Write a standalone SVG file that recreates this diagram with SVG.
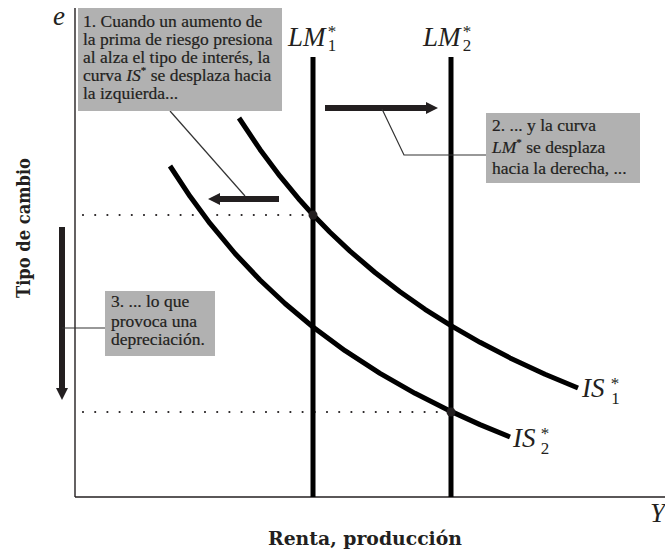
<svg xmlns="http://www.w3.org/2000/svg" width="665" height="551" viewBox="0 0 665 551">
<style>
.box{fill:#b1b1b1}
.bt{font-family:"Liberation Serif","Times New Roman",serif;font-size:17.5px;fill:#231f20;stroke:#231f20;stroke-width:0.2}
.it{font-style:italic}
.lbl{font-family:"Liberation Serif","Times New Roman",serif;font-style:italic;font-size:27px;fill:#231f20}
.sm{font-family:"Liberation Serif","Times New Roman",serif;font-size:17px;fill:#231f20;text-anchor:middle}
.ax{font-family:"DejaVu Serif","Liberation Serif",serif;font-weight:bold;font-size:18px;fill:#231f20;text-anchor:middle}
.axis{stroke:#231f20;stroke-width:1.4;fill:none}
.curve{stroke:#000;stroke-width:5;fill:none;stroke-linejoin:round}
.lm{stroke:#000;stroke-width:5;fill:none}
.dots{stroke:#231f20;stroke-width:2.2;stroke-linecap:round;stroke-dasharray:0 12.2;fill:none}
.arrow{stroke:#231f20;stroke-width:6;fill:none;marker-end:url(#ah)}
.leader{stroke:#333;stroke-width:1.2;fill:none}
</style>
<defs>
<marker id="ah" markerUnits="userSpaceOnUse" markerWidth="12" markerHeight="12" viewBox="0 0 12 12" refX="1" refY="6" orient="auto">
<path d="M0,0 L12,6 L0,12 z" fill="#231f20"/>
</marker>
</defs>

<g id="axes">
<line class="axis" x1="75" y1="8" x2="75" y2="497"/>
<line class="axis" x1="75" y1="497" x2="665" y2="497"/>
<text class="lbl" x="53" y="25" font-size="26">e</text>
<text class="lbl" x="650" y="522" font-size="26">Y</text>
<text class="ax" x="365" y="545" textLength="194" lengthAdjust="spacingAndGlyphs">Renta, producción</text>
<text class="ax" transform="translate(30,228) rotate(-90)" textLength="140" lengthAdjust="spacingAndGlyphs">Tipo de cambio</text>
</g>

<g id="guides">
<line class="dots" x1="83" y1="215" x2="308" y2="215"/>
<line class="dots" x1="83" y1="412" x2="446" y2="412"/>
</g>

<g id="IS1">
<polyline class="curve" points="239,118 260,149.4 280,176.2 300,200.3 313,214.7 330,232.2 350,251.1 375,272.5 400,291.8 425,309.3 451,325.7 480,342.3 510,357.9 545,374.2 578,388"/>
<text class="lbl" x="582" y="397">IS</text>
<text class="sm" x="615" y="389">*</text>
<text class="sm" x="615.5" y="404">1</text>
</g>

<g id="IS2">
<polyline class="curve" points="170,166 190,196.3 210,223.4 235,253.5 260,280 285,303.5 313,327 345,350.7 380,373.3 415,393.3 451,411.4 480,424.6 510,437"/>
<text class="lbl" x="513" y="447">IS</text>
<text class="sm" x="545" y="439">*</text>
<text class="sm" x="545" y="454">2</text>
</g>

<g id="LM1">
<line class="lm" x1="313" y1="57" x2="313" y2="497"/>
<text class="lbl" x="288" y="46">LM</text>
<text class="sm" x="332" y="37">*</text>
<text class="sm" x="332" y="51">1</text>
</g>

<g id="LM2">
<line class="lm" x1="451" y1="57" x2="451" y2="497"/>
<text class="lbl" x="423" y="46">LM</text>
<text class="sm" x="467" y="37">*</text>
<text class="sm" x="467" y="51">2</text>
</g>

<g id="points">
<circle cx="313" cy="215" r="4.5" fill="#231f20"/>
<circle cx="451" cy="412" r="4.5" fill="#231f20"/>
</g>

<g id="connectors">
<line class="arrow" x1="325" y1="108" x2="427" y2="108"/>
<line class="arrow" x1="279" y1="199" x2="219" y2="199"/>
<line class="arrow" x1="62" y1="227" x2="62" y2="389" stroke-width="5.5"/>
<line class="leader" x1="170" y1="111" x2="245" y2="196"/>
<polyline class="leader" points="382,109 404,155 486,155"/>
<line class="leader" x1="62" y1="328" x2="105" y2="328" stroke="#555" stroke-width="1.5"/>
</g>

<g id="note1">
<rect class="box" x="78" y="8" width="204" height="103"/>
<text class="bt" x="83" y="27">1. Cuando un aumento de</text>
<text class="bt" x="83" y="45">la prima de riesgo presiona</text>
<text class="bt" x="83" y="63">al alza el tipo de interés, la</text>
<text class="bt" x="83" y="81">curva <tspan class="it">IS</tspan><tspan font-size="11" dy="-7">*</tspan><tspan dy="7"> se desplaza hacia</tspan></text>
<text class="bt" x="83" y="99">la izquierda...</text>
</g>

<g id="note2">
<rect class="box" x="486" y="113" width="154" height="70"/>
<text class="bt" x="492" y="131">2. ... y la curva</text>
<text class="bt" x="492" y="152.5"><tspan class="it">LM</tspan><tspan font-size="11" dy="-7">*</tspan><tspan dy="7"> se desplaza</tspan></text>
<text class="bt" x="492" y="174">hacia la derecha, ...</text>
</g>

<g id="note3">
<rect class="box" x="105" y="291" width="110" height="65"/>
<text class="bt" x="111" y="307">3. ... lo que</text>
<text class="bt" x="111" y="326.5">provoca una</text>
<text class="bt" x="111" y="345">depreciación.</text>
</g>
</svg>
